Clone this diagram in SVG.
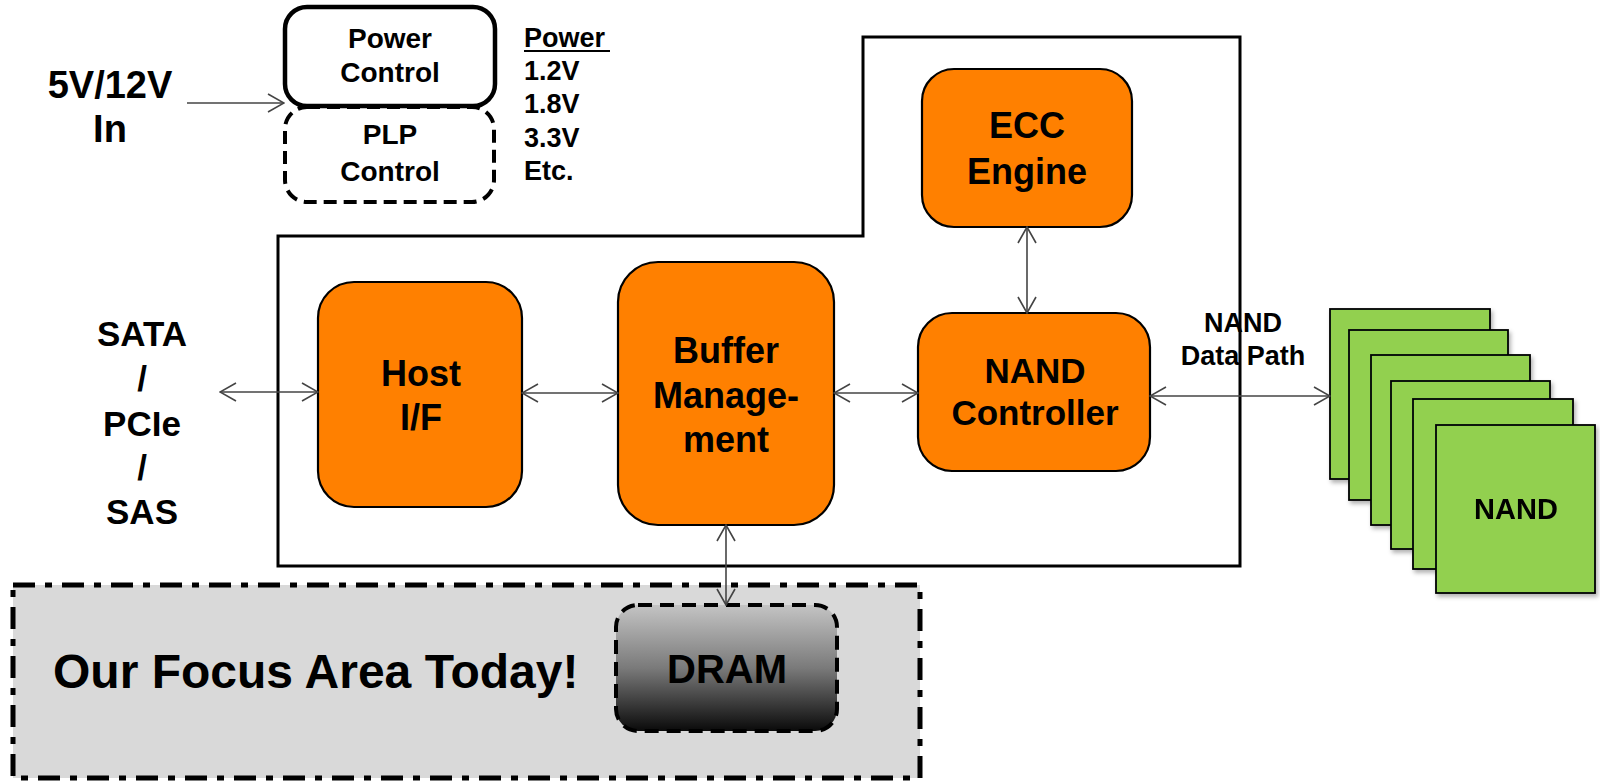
<svg xmlns="http://www.w3.org/2000/svg" width="1600" height="784" viewBox="0 0 1600 784">
<defs>
<style>
text{font-family:"Liberation Sans",Arial,sans-serif;font-weight:bold;fill:#000;}
.c{text-anchor:middle;}
.orange{fill:#FF8000;stroke:#000;stroke-width:2.2;}
.nand{fill:#92D050;stroke:#000;stroke-width:1.8;}
.conn{stroke:#444;stroke-width:1.6;fill:none;}
.big{font-size:36px;}
.mid{font-size:27px;}
</style>
<marker id="ah" viewBox="0 0 18 20" refX="17" refY="10" markerWidth="18" markerHeight="20" markerUnits="userSpaceOnUse" orient="auto-start-reverse">
<path d="M1,1 L17,10 L1,19" fill="none" stroke="#444" stroke-width="1.6"/>
</marker>
<linearGradient id="dramg" x1="0" y1="0" x2="0" y2="1">
<stop offset="0" stop-color="#c4c4c4"/>
<stop offset="0.5" stop-color="#7a7a7a"/>
<stop offset="1" stop-color="#0a0a0a"/>
</linearGradient>
<filter id="sh" x="-10%" y="-10%" width="130%" height="130%">
<feDropShadow dx="2" dy="3" stdDeviation="2" flood-color="#000" flood-opacity="0.3"/>
</filter>
</defs>

<g id="enclosure">
<path d="M278,236 H863 V37 H1240 V566 H278 Z" fill="none" stroke="#000" stroke-width="3"/>
</g>

<g id="focus-area">
<rect x="13" y="585" width="907" height="193" fill="#D9D9D9" stroke="#000" stroke-width="5" stroke-dasharray="22 10 7 10"/>
<text x="53" y="688" style="font-size:48px">Our Focus Area Today!</text>
</g>

<g id="power-input">
<text class="c" x="110" y="98" style="font-size:38px">5V/12V</text>
<text class="c" x="110" y="142" style="font-size:38px">In</text>
</g>

<g id="power-control">
<rect x="285" y="7" width="210" height="99" rx="22" fill="#fff" stroke="#000" stroke-width="4.5"/>
<text class="c" x="390" y="48" style="font-size:28px">Power</text>
<text class="c" x="390" y="82" style="font-size:28px">Control</text>
</g>

<g id="plp-control">
<rect x="285" y="107" width="209" height="95" rx="22" fill="none" stroke="#000" stroke-width="4" stroke-dasharray="13 7"/>
<text class="c" x="390" y="144" style="font-size:28px">PLP</text>
<text class="c" x="390" y="181" style="font-size:28px">Control</text>
</g>

<g id="power-list">
<text class="mid" x="524" y="47">Power</text>
<line x1="524" y1="51" x2="610" y2="51" stroke="#000" stroke-width="2"/>
<text class="mid" x="524" y="80">1.2V</text>
<text class="mid" x="524" y="113">1.8V</text>
<text class="mid" x="524" y="147">3.3V</text>
<text class="mid" x="524" y="180">Etc.</text>
</g>

<g id="host-label">
<text class="c" x="142" y="346" style="font-size:35px">SATA</text>
<text class="c" x="142" y="391" style="font-size:35px">/</text>
<text class="c" x="142" y="436" style="font-size:35px">PCIe</text>
<text class="c" x="142" y="480" style="font-size:35px">/</text>
<text class="c" x="142" y="524" style="font-size:35px">SAS</text>
</g>

<g id="host-if">
<rect class="orange" x="318" y="282" width="204" height="225" rx="36"/>
<text class="c big" x="421" y="386">Host</text>
<text class="c big" x="421" y="430">I/F</text>
</g>

<g id="buffer-management">
<rect class="orange" x="618" y="262" width="216" height="263" rx="40"/>
<text class="c big" x="726" y="363">Buffer</text>
<text class="c big" x="726" y="408">Manage-</text>
<text class="c big" x="726" y="452">ment</text>
</g>

<g id="ecc-engine">
<rect class="orange" x="922" y="69" width="210" height="158" rx="32"/>
<text class="c big" x="1027" y="138">ECC</text>
<text class="c big" x="1027" y="184">Engine</text>
</g>

<g id="nand-controller">
<rect class="orange" x="918" y="313" width="232" height="158" rx="34"/>
<text class="c" x="1035" y="383" style="font-size:35px">NAND</text>
<text class="c" x="1035" y="425" style="font-size:35px">Controller</text>
</g>

<g id="nand-data-path-label">
<text class="c" x="1243" y="332" style="font-size:27px">NAND</text>
<text class="c" x="1243" y="365" style="font-size:27px">Data Path</text>
</g>

<g id="nand-stack" filter="url(#sh)">
<rect class="nand" x="1330" y="309" width="160" height="170"/>
<rect class="nand" x="1349" y="330" width="159" height="170"/>
<rect class="nand" x="1371" y="355" width="159" height="170"/>
<rect class="nand" x="1391" y="381" width="159" height="168"/>
<rect class="nand" x="1413" y="399" width="160" height="170"/>
<rect class="nand" x="1436" y="425" width="159" height="168"/>
<text class="c" x="1516" y="519" style="font-size:29px">NAND</text>
</g>

<g id="dram">
<rect x="616" y="605" width="221" height="126" rx="22" fill="url(#dramg)" stroke="#000" stroke-width="4" stroke-dasharray="14 8"/>
<text class="c" x="727" y="683" style="font-size:40px">DRAM</text>
</g>

<g id="connectors">
<line class="conn" x1="187" y1="103" x2="284" y2="103" marker-end="url(#ah)"/>
<line class="conn" x1="220" y1="392" x2="318" y2="392" marker-start="url(#ah)" marker-end="url(#ah)"/>
<line class="conn" x1="522" y1="393" x2="618" y2="393" marker-start="url(#ah)" marker-end="url(#ah)"/>
<line class="conn" x1="834" y1="393" x2="918" y2="393" marker-start="url(#ah)" marker-end="url(#ah)"/>
<line class="conn" x1="1150" y1="396" x2="1330" y2="396" marker-start="url(#ah)" marker-end="url(#ah)"/>
<line class="conn" x1="1027" y1="227" x2="1027" y2="313" marker-start="url(#ah)" marker-end="url(#ah)"/>
<line class="conn" x1="726" y1="525" x2="726" y2="605" marker-start="url(#ah)" marker-end="url(#ah)"/>
</g>
</svg>
